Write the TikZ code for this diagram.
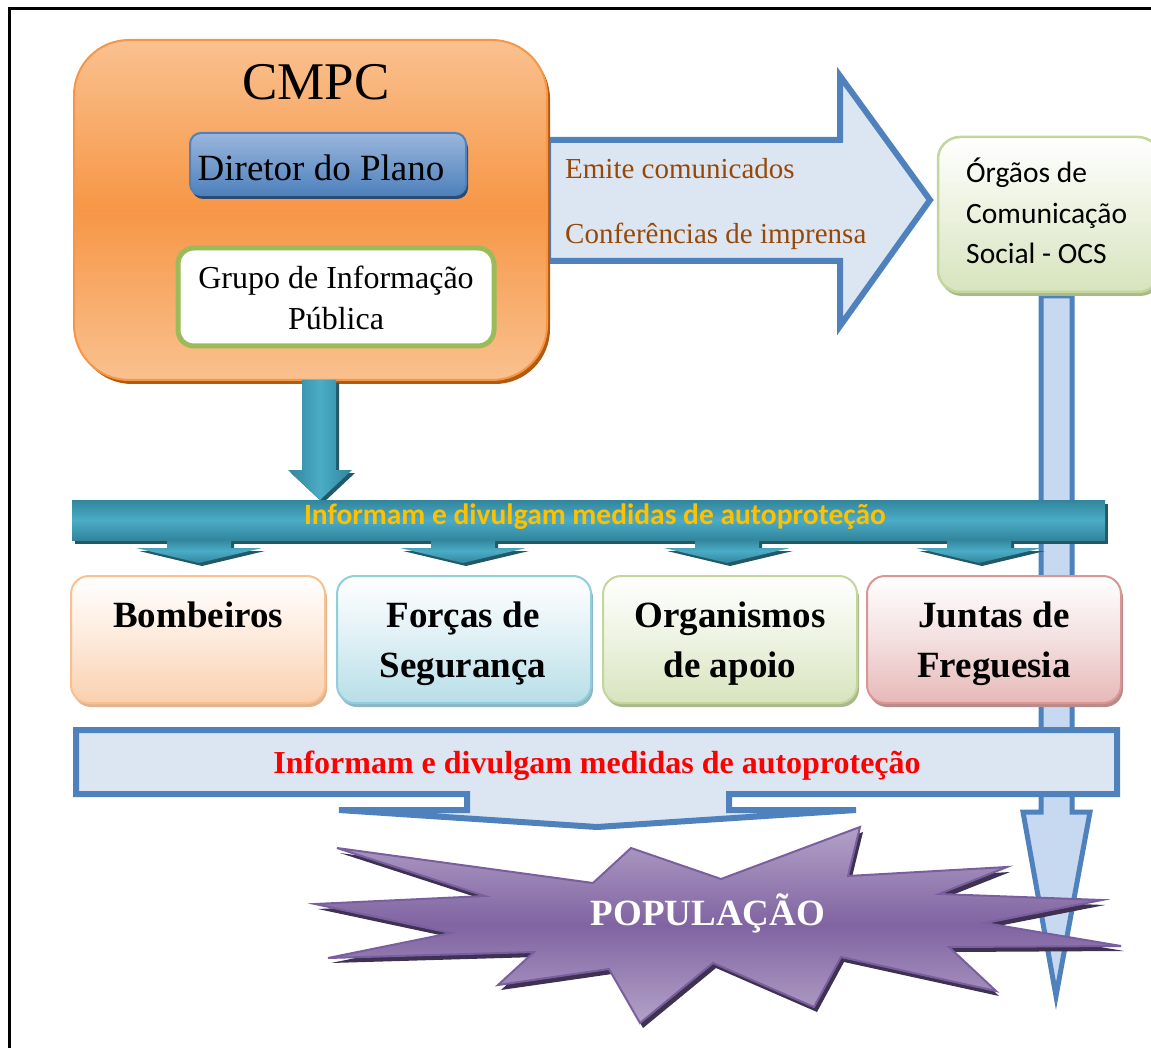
\documentclass[tikz,border=0pt]{standalone}
\usepackage{fontspec}
\setmainfont{Liberation Serif}
\newfontfamily\calibri{Carlito}
\usetikzlibrary{shadows}
\definecolor{orgB}{HTML}{F79646}
\definecolor{orgL}{HTML}{F9C18F}
\definecolor{orgS}{HTML}{B25A0E}
\definecolor{bluB}{HTML}{4F81BD}
\definecolor{bluT}{HTML}{9AB6DB}
\definecolor{bluS}{HTML}{2A4A72}
\definecolor{grnB}{HTML}{9BBB59}
\definecolor{lightBlue}{HTML}{DCE6F2}
\definecolor{midBlue}{HTML}{C6D9F1}
\definecolor{brownT}{HTML}{974806}
\definecolor{tealD}{HTML}{31859C}
\definecolor{tealL}{HTML}{4BACC6}
\definecolor{tealS}{HTML}{215967}
\definecolor{yel}{HTML}{FFC000}
\definecolor{bomB}{HTML}{FAC090}
\definecolor{bomF}{HTML}{FAD0AE}
\definecolor{bomS}{HTML}{E2B48E}
\definecolor{forB}{HTML}{92CDDC}
\definecolor{forF}{HTML}{B7DEE8}
\definecolor{forS}{HTML}{8DB7C3}
\definecolor{orgnB}{HTML}{C3D69B}
\definecolor{orgnF}{HTML}{D7E4BD}
\definecolor{orgnS}{HTML}{A9B98A}
\definecolor{junB}{HTML}{D99694}
\definecolor{junF}{HTML}{E6B9B8}
\definecolor{junS}{HTML}{B98A88}
\definecolor{starM}{HTML}{8064A2}
\definecolor{starL}{HTML}{B3A2C7}
\definecolor{starE}{HTML}{7A5FA0}
\definecolor{starS}{HTML}{3F3151}
\newcommand\mystar[1]{\path[#1] (337,848) -- (593,883) -- (631,848) -- (721,879) -- (860,827) -- (848,876) -- (1007,867) -- (939,894) -- (1102,900) -- (985,923) -- (1121,946) -- (949,947) -- (996,991) -- (841,957) -- (814,1007) -- (713,963) -- (640,1023) -- (609,969) -- (498,985) -- (534,952) -- (328,958) -- (451,933) -- (315,904) -- (485,896) -- cycle;}
\newcommand\smallarr[2]{%
  \fill[tealS] (#1-29,542) -- (#1+35,542) -- (#1+35,551) -- (#1+66,551) -- (#1+3,566) -- (#1-60,551) -- (#1-29,551) -- cycle;
  \path[top color=tealD, bottom color=tealD, middle color=tealL] (#1-32,539) -- (#1+32,539) -- (#1+32,548) -- (#1+63,548) -- (#1,563) -- (#1-63,548) -- (#1-32,548) -- cycle;
  \coordinate (#2) at (#1,563);}
\tikzset{
  bluearrow/.style={fill=lightBlue, draw=bluB, line width=6pt, line join=miter},
  catbox/.style={rounded corners=18pt, minimum width=254pt, minimum height=127pt, draw=#1B, line width=2pt, top color=white, bottom color=#1F, middle color=#1F!45!white, drop shadow={shadow xshift=2pt, shadow yshift=-4pt, fill=#1S, opacity=1}},
  cattext/.style={font=\fontsize{37}{44}\selectfont\bfseries, anchor=base, inner sep=0pt},
  ocstext/.style={font=\calibri\fontsize{29.5}{34}\selectfont, anchor=base west, inner sep=0pt},
}
\begin{document}
\begin{tikzpicture}[x=1pt,y=-1pt]
\clip (0,0) rectangle (1151,1048);
\fill[white] (0,0) rectangle (1151,1048);
\draw[line width=3pt] (1151,9) -- (9,9) -- (9,1048);

% OCS vertical arrow
\draw[fill=midBlue, draw=bluB, line width=5pt] (1041,296) -- (1072,296) -- (1072,812) -- (1090,812) -- (1056,996) -- (1023,812) -- (1041,812) -- cycle;

% big right arrow
\draw[bluearrow] (548,140) -- (840,140) -- (840,76) -- (930,200) -- (840,326) -- (840,261) -- (548,261) -- cycle;
\node[font=\fontsize{29}{34}\selectfont, text=brownT, anchor=base west, inner sep=0pt] (emite) at (565,179) {Emite comunicados};
\node[font=\fontsize{29}{34}\selectfont, text=brownT, anchor=base west, inner sep=0pt] (conf) at (565,244) {Conferências de imprensa};

% CMPC
\node[rounded corners=55pt, minimum width=473pt, minimum height=340pt, draw=orgB, line width=2pt, top color=orgL, bottom color=orgL, middle color=orgB, drop shadow={shadow xshift=3pt, shadow yshift=-4pt, fill=orgS, opacity=1}] (cmpc) at (310.5,210) {};
\node[font=\fontsize{53}{60}\selectfont, anchor=base, inner sep=0pt] (cmpcT) at (316,100) {CMPC};
\node[rounded corners=11pt, minimum width=276pt, minimum height=62pt, draw=bluB, line width=2pt, top color=bluT, bottom color=bluB, drop shadow={shadow xshift=2pt, shadow yshift=-4pt, fill=bluS, opacity=1}] (dir) at (328,164) {};
\node[font=\fontsize{37}{44}\selectfont, anchor=base, inner sep=0pt] (dirT) at (321,181) {Diretor do Plano};
\node[rounded corners=16pt, minimum width=316pt, minimum height=98pt, draw=grnB, line width=5pt, fill=white] (grupo) at (336,297) {};
\node[font=\fontsize{32}{38}\selectfont, anchor=base, inner sep=0pt] (grupoA) at (336,289) {Grupo de Informação};
\node[font=\fontsize{32}{38}\selectfont, anchor=base, inner sep=0pt] (grupoB) at (336,330) {Pública};

% OCS box
\node[rounded corners=22pt, minimum width=222pt, minimum height=155pt, draw=orgnB, line width=2.5pt, top color=white, bottom color=orgnF, drop shadow={shadow xshift=2pt, shadow yshift=-4pt, fill=orgnS, opacity=1}] (ocs) at (1049,214.5) {};
\node[ocstext] (ocsA) at (966,183) {Órgãos de};
\node[ocstext] (ocsB) at (966,224) {Comunicação};
\node[ocstext] (ocsC) at (966,264) {Social - OCS};

% teal down arrow
\fill[tealS] (305,383) -- (339,383) -- (339,473) -- (355,473) -- (323,503) -- (291,473) -- (305,473) -- cycle;
\path[left color=tealD, right color=tealD, middle color=tealL] (302,380) -- (336,380) -- (336,470) -- (352,470) -- (320,500) -- (288,470) -- (302,470) -- cycle;

% teal banner
\node[minimum width=1033pt, minimum height=40pt, inner sep=0pt, top color=tealD, bottom color=tealD, middle color=tealL, drop shadow={shadow xshift=3pt, shadow yshift=-4pt, fill=tealS, opacity=1}] (band) at (588.5,520) {};
\node[font=\calibri\bfseries\fontsize{29.5}{34}\selectfont, text=yel, anchor=base, inner sep=0pt] (bandT) at (595,524) {Informam e divulgam medidas de autoproteção};
\smallarr{199}{a1}
\smallarr{463}{a2}
\smallarr{727}{a3}
\smallarr{979}{a4}

% four boxes
\node[catbox=bom] (bomb) at (198,639.5) {};
\node[catbox=for] (forc) at (464,639.5) {};
\node[catbox=orgn] (orgs) at (730,639.5) {};
\node[catbox=jun] (junt) at (994,639.5) {};
\node[cattext] (bombT) at (198,627) {Bombeiros};
\node[cattext] (forcA) at (463,627) {Forças de};
\node[cattext] (forcB) at (463,677) {Segurança};
\node[cattext] (orgsA) at (730,627) {Organismos};
\node[cattext] (orgsB) at (730,677) {de apoio};
\node[cattext] (juntA) at (994,627) {Juntas de};
\node[cattext] (juntB) at (994,677) {Freguesia};

% blue banner with down arrow
\draw[bluearrow] (76,730) -- (1117,730) -- (1117,794) -- (729,794) -- (729,810) -- (856,810) -- (597,827) -- (339,810) -- (467,810) -- (467,794) -- (76,794) -- cycle;
\node[font=\fontsize{32}{38}\selectfont\bfseries, text=red, anchor=base, inner sep=0pt] (bannerT) at (597,773) {Informam e divulgam medidas de autoproteção};

% star
\mystar{fill=starS, shift={(3,5)}}
\mystar{top color=starL, bottom color=starL, middle color=starM, draw=starE, line width=2pt}
\node[font=\fontsize{37}{44}\selectfont\bfseries, text=white, anchor=base, inner sep=0pt] (pop) at (708,925) {POPULAÇÃO};
\end{tikzpicture}
\end{document}
